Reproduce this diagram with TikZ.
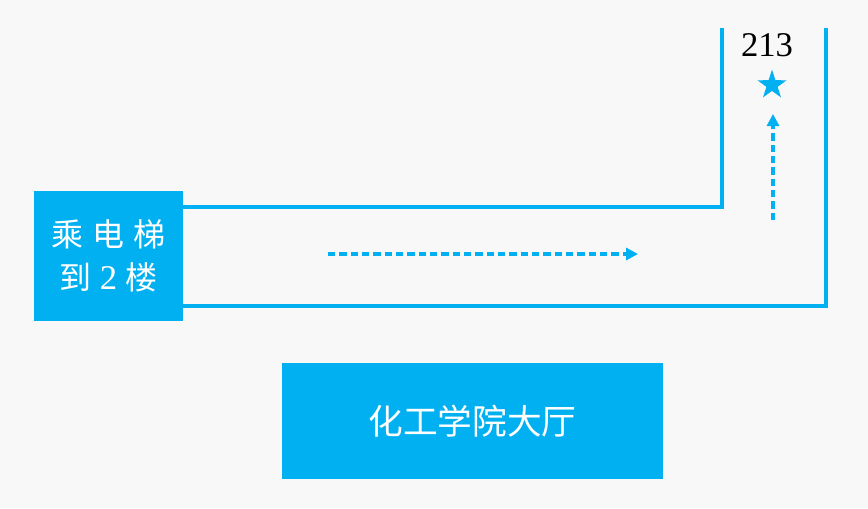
\documentclass[tikz,border=0pt]{standalone}
\usepackage{fontspec}
\setmainfont{Liberation Serif}
\newfontfamily\cjk{Noto Sans CJK SC}
\usetikzlibrary{arrows.meta,shapes.geometric}
\definecolor{mapblue}{RGB}{0,176,240}
\definecolor{mapbg}{RGB}{248,248,248}
\tikzset{
  wall/.style={draw=mapblue, line width=2.5pt},
  route/.style={draw=mapblue, line width=2.4pt, dash pattern=on 5.5pt off 3pt,
                -{Triangle[length=9pt,width=9pt]}},
  place/.style={fill=mapblue, text=white, inner sep=0pt, font=\cjk\fontsize{24pt}{32pt}\selectfont}
}
\begin{document}
\begin{tikzpicture}[x=0.75pt, y=-0.75pt]
        \fill[mapbg] (0,0) rectangle (868,508);

        \node (lift) at (108.5, 256) [place, minimum width=111.75pt, minimum height=97.5pt,
              align=center] {乘\hspace{6.5pt}电\hspace{6.5pt}梯\\到\hspace{6.5pt}{\rmfamily\fontsize{26pt}{32pt}\selectfont 2}\hspace{6.5pt}楼};
        \node (hall) at (472.5, 421) [place, minimum width=285.75pt, minimum height=87pt,
              font=\cjk\fontsize{26pt}{30pt}\selectfont] {化工学院大厅};

        % corridor to room 213
        \coordinate (topleft)  at (722, 28);
        \coordinate (topright) at (826, 28);
        \draw[wall] (lift.east |- 0, 207) -| (topleft);
        \draw[wall] (lift.east |- 0, 306) -| (topright);

        \node (room) at (767, 45) [font=\fontsize{26pt}{30pt}\selectfont, inner sep=0pt] {213};
        \node (star) at (772, 85) [star, star points=5, star point ratio=2.6, fill=mapblue,
              inner sep=0pt, minimum size=23pt] {};

        % way to go
        \coordinate (go) at (328, 254);
        \coordinate (turn) at (773, 220);
        \draw[route] (go) -- (638, 254);
        \draw[route] (turn) -- (773, 114);
      \end{tikzpicture}
\end{document}
